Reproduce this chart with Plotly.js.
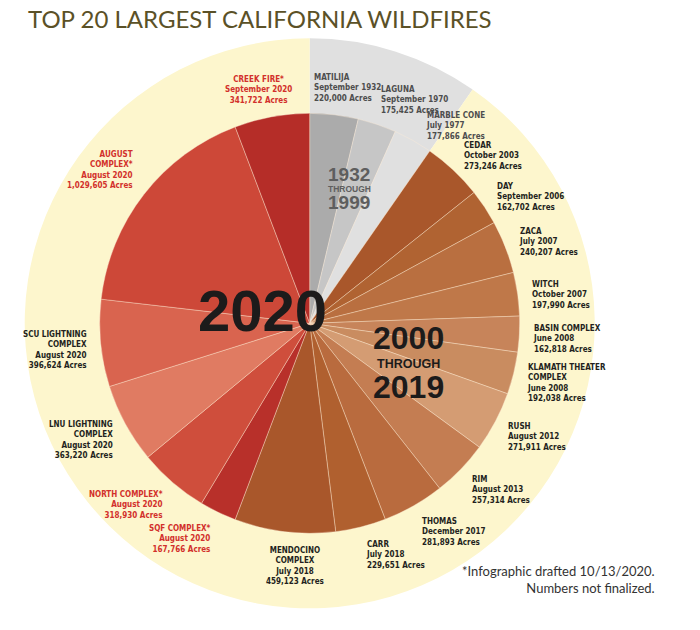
<!DOCTYPE html>
<html>
<head>
<meta charset="utf-8">
<script src="https://cdn.plot.ly/plotly-3.0.1.min.js"></script>
<style>
html,body{margin:0;padding:0;background:#fff}
/* fire labels use the condensed face of DejaVu Sans */
#graph .annotation-text{font-stretch:condensed}
</style>
</head>
<body>
<div id="graph" style="width:700px;height:630px"></div>
<script>
// fires, clockwise from 12 o'clock
var fireNames=['MATILIJA','LAGUNA','MARBLE CONE','CEDAR','DAY','ZACA','WITCH','BASIN COMPLEX',
  'KLAMATH THEATER<br>COMPLEX','RUSH','RIM','THOMAS','CARR','MENDOCINO<br>COMPLEX',
  'SQF COMPLEX*','NORTH COMPLEX*','LNU LIGHTNING<br>COMPLEX','SCU LIGHTNING<br>COMPLEX',
  'AUGUST<br>COMPLEX*','CREEK FIRE*']
var fireDates=['September 1932','September 1970','July 1977','October 2003','September 2006',
  'July 2007','October 2007','June 2008','June 2008','August 2012','August 2013',
  'December 2017','July 2018','July 2018','August 2020','August 2020','August 2020',
  'August 2020','August 2020','September 2020']
var fireAcres=[220000,175425,177866,273246,162702,240207,197990,162818,192038,271911,
  257314,281893,229651,459123,167766,318930,363220,396624,1029605,341722]
var fireEra=['1932-1999','1932-1999','1932-1999',
  '2000-2019','2000-2019','2000-2019','2000-2019','2000-2019','2000-2019','2000-2019',
  '2000-2019','2000-2019','2000-2019','2000-2019',
  '2020','2020','2020','2020','2020','2020']

var sliceColors=['#ababab','#c6c6c6','#e0e0e0',
  '#a9572b','#b06332','#b96f40','#bf7849','#c7845a','#c98c60','#d49c73','#c47d52',
  '#b96b3e','#b0602f','#a9572b',
  '#b8302a','#cf4e3c','#e07b62','#d9644f','#cd4838','#b52d28']

//page geometry (px)
var W=700, H=630
var cx=309.7, cy=323.3
var rIn=210, rOut=285
// labels sit on a slightly squashed ring
var labRx=222, labRy=235, labDy=4
// hand tweaks for a few crowded labels (px)
var labNudge={0:[-24,-6],1:[-2,-5],2:[5,3],13:[12,5],18:[0,-13],19:[-11,-6]}

function px(x){return x/W}
function py(y){return 1-y/H}
function dom(r){return {x:[px(cx-r),px(cx+r)], y:[py(cy+r),py(cy-r)]}}

var total=fireAcres.reduce(function(a,b){return a+b},0)
var oldTotal=0
fireAcres.forEach(function(v,i){ if(fireEra[i]=='1932-1999') oldTotal+=v })

// outer ring: yellow disc with the pre-2000 wedge in light gray
var trace_ring={
  type:'pie',
  values:[oldTotal,total-oldTotal],
  labels:['1932-1999','2000-2020'],
  sort:false,
  direction:'clockwise',
  rotation:0,
  domain:dom(rOut),
  marker:{colors:['#e0e0e0','#fdf6cd'],line:{width:0}},
  textinfo:'none',
  hoverinfo:'none'
}

var trace_fires={
  type:'pie',
  values:fireAcres,
  labels:fireNames,
  sort:false,
  direction:'clockwise',
  rotation:0,
  domain:dom(rIn),
  marker:{colors:sliceColors,line:{color:'rgba(255,236,215,0.55)',width:0.7}},
  textinfo:'none',
  hoverinfo:'none'
}

//////// labels round the pie
var labFont='DejaVu Sans Condensed, DejaVu Sans, sans-serif'
var annos=[]
var cum=0
fireAcres.forEach(function(v,i){
  var a=(cum+v/2)/total*2*Math.PI
  cum+=v
  var s=Math.sin(a), c=Math.cos(a)
  var side=s>0.1?'left':(s<-0.2?'right':'center')
  var nd=labNudge[i]||[0,0]
  var col=fireEra[i]=='1932-1999'?'#4d4d4d':(fireNames[i].indexOf('*')>=0?'#d2302b':'#231f20')
  annos.push({
    xref:'paper',yref:'paper',
    x:px(cx+labRx*s+nd[0]), y:py(cy+labDy-labRy*c+nd[1]),
    xanchor:side, yanchor:'middle', align:side,
    showarrow:false,
    text:fireNames[i]+'<br>'+fireDates[i]+'<br>'+fireAcres[i].toLocaleString('en-US')+' Acres',
    font:{family:labFont,size:8,color:col,weight:'bold'}
  })
})

// era captions
var bigFont='Liberation Sans, Arial, sans-serif'
function caption(x,y,txt,size,col){
  annos.push({xref:'paper',yref:'paper',x:px(x),y:py(y),yanchor:'middle',showarrow:false,
    text:'<b>'+txt+'</b>',font:{family:bigFont,size:size,color:col}})
}
caption(196,310,'2020',58,'#1c1b1b')
caption(408,338,'2000',32,'#1c1b1b')
caption(408,364,'THROUGH',12.5,'#1c1b1b')
caption(408,387,'2019',32,'#1c1b1b')
caption(349,174,'1932',19,'#5e5e5e')
caption(349,189,'THROUGH',8.5,'#5e5e5e')
caption(349,203,'1999',19,'#5e5e5e')

// footnote
annos.push({xref:'paper',yref:'paper',x:px(657),y:py(598),xanchor:'right',align:'right',showarrow:false,
  text:'*Infographic drafted 10/13/2020.<br>Numbers not finalized.',
  font:{family:'Lato, sans-serif',size:13,color:'#333333'}})

var layout={
  width:W, height:H,
  margin:{l:0,r:0,t:0,b:0},
  showlegend:false,
  paper_bgcolor:'#ffffff',
  title:{text:'TOP 20 LARGEST CALIFORNIA WILDFIRES',x:px(28),xanchor:'left',y:py(20),yanchor:'middle',
    font:{family:'Lato, sans-serif',size:24,color:'#5b5127'}},
  annotations:annos
}

Plotly.newPlot('graph',[trace_ring,trace_fires],layout,{displayModeBar:false,staticPlot:true})
</script>
</body>
</html>
